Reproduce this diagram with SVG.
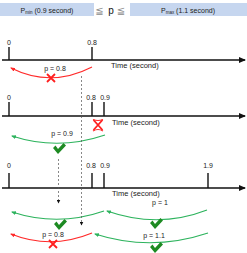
<svg xmlns="http://www.w3.org/2000/svg" width="247" height="253" viewBox="0 0 247 253">
<defs>
<style>
text{font-family:"Liberation Sans",Arial,sans-serif;fill:#222}
.lbl{font-size:7px;text-anchor:middle}
.time{font-size:7.5px}
.axis{stroke:#111;stroke-width:1.4;fill:none}
.tick{stroke:#111;stroke-width:1.4}
.red{stroke:#ff2a2a;stroke-width:1.2;fill:none}
.grn{stroke:#2db35d;stroke-width:1.2;fill:none}
.dash{stroke:#555;stroke-width:0.7;stroke-dasharray:2 2;fill:none}
.x{stroke:#ff1f1f;stroke-width:1.8;fill:none}
.chk{fill:#1d8a22}
.box{fill:#c6d6ef}
.le{font-family:"DejaVu Sans",sans-serif;font-size:10px;text-anchor:middle;fill:#8a8a8a}
</style>
<marker id="ax" markerWidth="7" markerHeight="6" refX="6" refY="3" orient="auto" markerUnits="userSpaceOnUse"><path d="M0,0 L7,3 L0,6 Z" fill="#111"/></marker>
<marker id="ar" markerWidth="5" markerHeight="4" refX="4" refY="2" orient="auto" markerUnits="userSpaceOnUse"><path d="M0,0 L5,2 L0,4 Z" fill="#ff2a2a"/></marker>
<marker id="ag" markerWidth="5" markerHeight="4" refX="4" refY="2" orient="auto" markerUnits="userSpaceOnUse"><path d="M0,0 L5,2 L0,4 Z" fill="#2db35d"/></marker>
<marker id="ad" markerWidth="4" markerHeight="4" refX="3.5" refY="2" orient="auto" markerUnits="userSpaceOnUse"><path d="M0,0 L4,2 L0,4 Z" fill="#111"/></marker>
</defs>

<g id="header">
<rect class="box" x="0" y="3" width="94" height="13"/>
<text x="47" y="12.5" style="font-size:7px;text-anchor:middle">P<tspan style="font-size:4.5px" dy="1">min</tspan><tspan dy="-1"> (0.9 second)</tspan></text>
<rect class="box" x="130" y="3" width="117" height="13"/>
<text x="188" y="12.5" style="font-size:7px;text-anchor:middle">P<tspan style="font-size:4.5px" dy="1">max</tspan><tspan dy="-1"> (1.1 second)</tspan></text>
<text class="le" x="99.5" y="14">≦</text>
<text x="111" y="14" style="font-size:10px;text-anchor:middle;fill:#111">p</text>
<text class="le" x="121" y="14">≦</text>
</g>

<g id="timeline1">
<line class="axis" x1="2" y1="60" x2="245" y2="60" marker-end="url(#ax)"/>
<line class="tick" x1="9" y1="47" x2="9" y2="60"/>
<line class="tick" x1="92" y1="47" x2="92" y2="60"/>
<text class="lbl" x="9" y="44.5">0</text>
<text class="lbl" x="92" y="44.5">0.8</text>
<text class="time" x="111" y="67.5">Time (second)</text>
</g>

<g id="timeline2">
<line class="axis" x1="2" y1="116" x2="245" y2="116" marker-end="url(#ax)"/>
<line class="tick" x1="9" y1="102" x2="9" y2="116"/>
<line class="tick" x1="92" y1="102" x2="92" y2="116"/>
<line class="tick" x1="104" y1="102" x2="104" y2="116"/>
<text class="lbl" x="9" y="100">0</text>
<text class="lbl" x="91" y="100">0.8</text>
<text class="lbl" x="105" y="100">0.9</text>
<text class="time" x="112" y="124.5">Time (second)</text>
</g>

<g id="timeline3">
<line class="axis" x1="2" y1="188" x2="245" y2="188" marker-end="url(#ax)"/>
<line class="tick" x1="9" y1="173" x2="9" y2="188"/>
<line class="tick" x1="92" y1="173" x2="92" y2="188"/>
<line class="tick" x1="104" y1="173" x2="104" y2="188"/>
<line class="tick" x1="208" y1="173" x2="208" y2="188"/>
<text class="lbl" x="9" y="167.5">0</text>
<text class="lbl" x="91" y="167.5">0.8</text>
<text class="lbl" x="105" y="167.5">0.9</text>
<text class="lbl" x="208" y="167.5">1.9</text>
<text class="time" x="112" y="196">Time (second)</text>
</g>

<g id="connectors">
<path class="red" d="M92,67 Q51,88 11,68" marker-end="url(#ar)"/>
<path class="grn" d="M105,135 Q58,151 12,136" marker-end="url(#ag)"/>
<path class="grn" d="M104,211 Q58,227 12,212" marker-end="url(#ag)"/>
<path class="grn" d="M207,210 Q158,229 107,211" marker-end="url(#ag)"/>
<path class="red" d="M92,233 Q51,250 11,234" marker-end="url(#ar)"/>
<path class="grn" d="M208,233 Q151,252 95,234" marker-end="url(#ag)"/>
<line class="dash" x1="81.5" y1="76" x2="81.5" y2="225" marker-end="url(#ad)"/>
<line class="dash" x1="58.5" y1="159" x2="58.5" y2="203" marker-end="url(#ad)"/>
</g>

<g id="labels">
<text class="lbl" x="55" y="70.5">p = 0.8</text>
<text class="lbl" x="62" y="136">p = 0.9</text>
<text class="lbl" x="160" y="205">p = 1</text>
<text class="lbl" x="53" y="237">p = 0.8</text>
<text class="lbl" x="154" y="238">p = 1.1</text>
</g>

<g id="marks">
<path class="x" d="M47,74 L55,82 M55,74 L47,82"/>
<path class="x" d="M93.5,120 L102.5,130 M102.5,120 L93.5,130"/>
<path class="red" d="M93,119.5 Q98,121.5 103,119.5 M93,131 Q98,128 103,131"/>
<path class="x" d="M49,240 L57,248 M57,240 L49,248"/>
<path class="chk" d="M53,148 L55.5,145.5 L58,149 L63.5,143 L66,145.5 L58,154 Z"/>
<path class="chk" d="M54,224 L56.5,221.5 L59,225 L64.5,219 L67,221.5 L59,230 Z"/>
<path class="chk" d="M150,223 L152.5,220.5 L155,224 L160.5,218 L163,220.5 L155,229 Z"/>
<path class="chk" d="M150,247 L152.5,244.5 L155,248 L160.5,242 L163,244.5 L155,253 Z"/>
</g>
</svg>
